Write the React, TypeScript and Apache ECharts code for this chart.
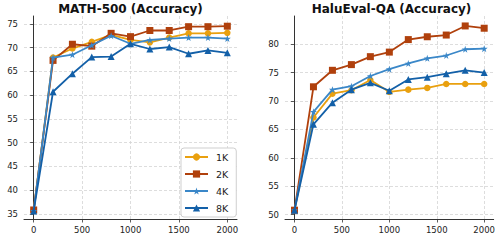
import { useEffect, useRef } from 'react';
import * as echarts from 'echarts';

const steps = [0, 200, 400, 600, 800, 1000, 1200, 1400, 1600, 1800, 2000];
const seriesNames = ['1K', '2K', '4K', '8K'];
const math1K = [35.7, 67.9, 69.8, 71.2, 72.7, 71.6, 71.1, 72.1, 73.0, 73.0, 73.1];
const math2K = [35.8, 67.3, 70.7, 70.3, 73.0, 72.3, 73.6, 73.6, 74.4, 74.4, 74.5];
const math4K = [35.6, 67.9, 68.5, 70.5, 72.5, 70.8, 71.6, 71.9, 72.1, 72.1, 71.9];
const math8K = [35.6, 60.7, 64.5, 68.0, 68.1, 70.8, 69.7, 70.1, 68.7, 69.4, 68.9];
const halu1K = [50.8, 67.1, 71.3, 71.9, 73.7, 71.6, 72.0, 72.3, 73.0, 73.0, 73.0];
const halu2K = [50.8, 72.5, 75.4, 76.4, 77.8, 78.6, 80.8, 81.3, 81.6, 83.2, 82.8];
const halu4K = [50.8, 68.1, 72.0, 72.6, 74.4, 75.6, 76.6, 77.5, 78.0, 79.1, 79.2];
const halu8K = [50.8, 65.9, 69.7, 72.0, 73.2, 71.8, 73.8, 74.2, 74.8, 75.4, 75.0];
const xTicks = [0, 500, 1000, 1500, 2000];
const mathYTicks = [35, 40, 45, 50, 55, 60, 65, 70, 75];
const haluYTicks = [50, 55, 60, 65, 70, 75, 80];
const titles = ['MATH-500 (Accuracy)', 'HaluEval-QA (Accuracy)'];

const colors = ['#E9A00F', '#B0400C', '#3A87C8', '#1360A8'];
const STAR =
  'path://M0,-1L0.2245,-0.309L0.951,-0.309L0.363,0.118L0.588,0.809L0,0.382L-0.588,0.809L-0.363,0.118L-0.951,-0.309L-0.2245,-0.309Z';
const symbols = ['circle', 'rect', STAR, 'triangle'];
const symbolSizes = [6.5, 7, 7, 7];

const FONT = 'DejaVu Sans';

function axisCommon(ticks: number[], gridIndex: number, min: number, max: number) {
  return {
    type: 'value' as const,
    gridIndex,
    min,
    max,
    axisLine: { show: true, lineStyle: { color: '#333', width: 1 } },
    axisTick: { show: true, length: 3.5, inside: false, customValues: ticks, lineStyle: { color: '#333', width: 0.8 } },
    axisLabel: {
      customValues: ticks,
      fontSize: 8.5,
      color: '#222',
      fontFamily: FONT,
      margin: 6,
      formatter: (v: number) => String(v),
    },
    splitLine: { show: true, lineStyle: { color: '#d4d4d4', type: [3, 2], width: 0.8 } },
  };
}

export default function App() {
  const ref = useRef<HTMLDivElement>(null);
  useEffect(() => {
    if (!ref.current) return;
    const chart = echarts.init(ref.current, null, { renderer: 'svg' });
    const mathData = [math1K, math2K, math4K, math8K];
    const haluData = [halu1K, halu2K, halu4K, halu8K];
    const mk = (data: number[][], gi: number) =>
      seriesNames.map((name, i) => ({
        type: 'line' as const,
        name,
        xAxisIndex: gi,
        yAxisIndex: gi,
        data: steps.map((s, k) => [s, data[i][k]]),
        symbol: symbols[i],
        symbolSize: symbolSizes[i],
        showAllSymbol: true,
        lineStyle: { color: colors[i], width: 1.8 },
        itemStyle: { color: colors[i] },
        z: 2 + i,
      }));
    chart.setOption({
      animation: false,
      grid: [
        { left: 24, top: 16, width: 213, height: 203 },
        { left: 285, top: 16, width: 213.5, height: 203 },
      ],
      xAxis: [axisCommon(xTicks, 0, -100, 2100), axisCommon(xTicks, 1, -100, 2100)],
      yAxis: [axisCommon(mathYTicks, 0, 33.9, 76.65), axisCommon(haluYTicks, 1, 49.25, 84.95)],
      legend: {
        show: true,
        orient: 'vertical',
        left: 181,
        top: 148,
        padding: [4, 8, 4, 3],
        itemWidth: 23,
        itemHeight: 9,
        itemGap: 7,
        backgroundColor: '#fff',
        borderColor: '#cfcfcf',
        borderWidth: 1,
        borderRadius: 3,
        data: seriesNames,
        textStyle: { fontSize: 9.5, fontFamily: FONT, color: '#222', padding: [0, 0, 0, 3] },
      },
      graphic: titles.map((t, i) => ({
        type: 'text',
        x: i === 0 ? 130.5 : 391.5,
        y: 8.5,
        style: {
          text: t,
          align: 'center',
          verticalAlign: 'middle',
          fontSize: 12,
          fontWeight: 'bold',
          fontFamily: FONT,
          fill: '#111',
        },
      })),
      series: [...mk(mathData, 0), ...mk(haluData, 1)],
    });
    return () => chart.dispose();
  }, []);
  return (
    <div
      ref={ref}
      style={{ position: 'absolute', left: 0, top: 0, width: 498, height: 241, background: '#fff' }}
    />
  );
}
